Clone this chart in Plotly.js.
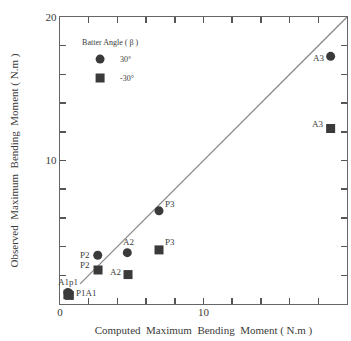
<!DOCTYPE html>
<html>
<head>
<meta charset="utf-8">
<script src="https://cdn.plot.ly/plotly-3.0.1.min.js"></script>
<style>html,body{margin:0;padding:0;background:#fff;}#chart{width:351px;height:341px;}</style>
</head>
<body>
<div id="chart"></div>
<script>
// Data
var pileLabelsPos = ['A1', 'P1', 'P2', 'A2', 'P3', 'A3'];
var computedPos = [0.55, 0.62, 2.63, 4.69, 6.9, 18.86];
var observedPos = [0.8, 0.75, 3.4, 3.58, 6.49, 17.26];

var pileLabelsNeg = ['A1', 'P1', 'P2', 'A2', 'P3', 'A3'];
var computedNeg = [0.55, 0.65, 2.65, 4.74, 6.9, 18.86];
var observedNeg = [0.65, 0.6, 2.37, 2.05, 3.77, 12.23];

var seriesNames = ['30°', '-30°'];
var legendTitle = 'Batter Angle ( β )';

var lineX = [1.4, 20];
var lineY = [1.4, 20];

// Tick labels: only 0, 10, 20 are labelled; the other ticks are blank
var hiddenTickLabelsX = ['2', '4', '6', '8', '12', '14', '16', '18'];
var hiddenTickLabelsY = ['0', '2', '4', '6', '8', '12', '14', '16', '18'];

var xTitle = 'Computed  Maximum  Bending  Moment ( N.m )';
var yTitle = 'Observed  Maximum  Bending  Moment ( N.m )';

function aliasBlank(list) {
  var o = {};
  list.forEach(function (k) { o[k] = ' '; });
  return o;
}

// Label placement (styles only)
var labelStyles = {
  pos: {
    'A3': {xanchor: 'right', xshift: -4, yshift: -2},
    'P3': {xanchor: 'left', xshift: 4, yshift: 7},
    'A2': {xanchor: 'center', xshift: 1, yshift: 11},
    'P2': {xanchor: 'right', xshift: -6, yshift: 0}
  },
  neg: {
    'A3': {xanchor: 'right', xshift: -5, yshift: 5},
    'P3': {xanchor: 'left', xshift: 4, yshift: 8},
    'A2': {xanchor: 'right', xshift: -5, yshift: 3},
    'P2': {xanchor: 'right', xshift: -6, yshift: 5}
  }
};

var ink = '#3a3a3a';
var font = 'Liberation Serif, Times New Roman, serif';

var annotations = [];
function addLabels(xs, ys, labels, styles) {
  for (var i = 0; i < xs.length; i++) {
    var s = styles[labels[i]];
    if (!s) continue;
    annotations.push({
      x: xs[i], y: ys[i], xref: 'x', yref: 'y', text: labels[i], showarrow: false,
      xanchor: s.xanchor, yanchor: 'middle', xshift: s.xshift, yshift: s.yshift,
      font: {family: font, size: 9, color: ink}
    });
  }
}
addLabels(computedPos, observedPos, pileLabelsPos, labelStyles.pos);
addLabels(computedNeg, observedNeg, pileLabelsNeg, labelStyles.neg);
// Cluster labels near origin
annotations.push({x: computedPos[0], y: observedPos[0], xref: 'x', yref: 'y',
  text: pileLabelsPos[0] + 'p' + pileLabelsPos[1].slice(1), showarrow: false,
  xanchor: 'center', yanchor: 'middle', xshift: 0, yshift: 11,
  font: {family: font, size: 9, color: ink}});
annotations.push({x: computedNeg[1], y: observedNeg[1], xref: 'x', yref: 'y',
  text: pileLabelsNeg[1] + pileLabelsNeg[0], showarrow: false,
  xanchor: 'left', yanchor: 'middle', xshift: 5, yshift: 2,
  font: {family: font, size: 9, color: ink}});

var traces = [
  {x: lineX, y: lineY, mode: 'lines', line: {color: '#8a8a8a', width: 1.3},
   showlegend: false, hoverinfo: 'skip'},
  {x: computedPos, y: observedPos, mode: 'markers', name: seriesNames[0],
   marker: {symbol: 'circle', size: 9, color: ink}},
  {x: computedNeg, y: observedNeg, mode: 'markers', name: seriesNames[1],
   marker: {symbol: 'square', size: 9, color: ink}}
];

var axisCommon = {
  range: [0, 20], tick0: 0, dtick: 2, ticks: 'inside', ticklen: 6, tickwidth: 1.5,
  tickcolor: '#555', showline: true, linecolor: '#666', linewidth: 1.2, mirror: 'ticks',
  showgrid: false, zeroline: false, tickfont: {family: font, size: 11, color: ink}
};

var layout = {
  width: 351, height: 341,
  margin: {l: 60, r: 4, t: 17, b: 37},
  paper_bgcolor: '#fff', plot_bgcolor: '#fff',
  font: {family: font, color: ink},
  xaxis: Object.assign({}, axisCommon, {labelalias: aliasBlank(hiddenTickLabelsX), ticklabelstandoff: -2,
    title: {text: xTitle, font: {family: font, size: 11, color: ink}, standoff: 8}}),
  yaxis: Object.assign({}, axisCommon, {labelalias: aliasBlank(hiddenTickLabelsY),
    title: {text: yTitle, font: {family: font, size: 11, color: ink}, standoff: 24}}),
  showlegend: true,
  legend: {
    x: 0.07, y: 0.94, xanchor: 'left', yanchor: 'top',
    bgcolor: 'rgba(0,0,0,0)', borderwidth: 0,
    font: {family: font, size: 8, color: ink},
    title: {text: legendTitle, font: {family: font, size: 8, color: ink}, side: 'top'},
    itemwidth: 30, tracegroupgap: 0
  },
  annotations: annotations
};

Plotly.newPlot('chart', traces, layout, {staticPlot: true, displayModeBar: false});
</script>
</body>
</html>
